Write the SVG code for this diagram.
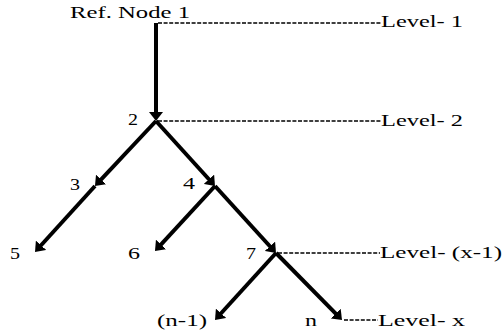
<svg xmlns="http://www.w3.org/2000/svg" width="504" height="333" viewBox="0 0 504 333">
<style>
text{font-family:"Liberation Serif","Times New Roman",serif;font-size:16.5px;font-weight:normal;fill:#000}
.e{fill:none;stroke:#000;stroke-width:4;stroke-linecap:butt;marker-end:url(#ah)}
.d{fill:none;stroke:#000;stroke-width:1.5;stroke-dasharray:4 1.6}
</style>
<defs>
<marker id="ah" markerUnits="userSpaceOnUse" viewBox="0 -7 9 14" markerWidth="9" markerHeight="14" refX="5" refY="0" orient="auto">
<path d="M0,-7 L9,0 L0,7 Z" fill="#000"/>
</marker>
</defs>
<rect width="504" height="333" fill="#fff"/>
<g id="connectors">
<line class="e" x1="156" y1="23" x2="156" y2="117"/>
<line class="e" x1="156" y1="121" x2="97.7" y2="183.1"/>
<line class="e" x1="95" y1="186" x2="37.7" y2="249"/>
<line class="e" x1="156" y1="121" x2="212.3" y2="183"/>
<line class="e" x1="215" y1="186" x2="157.7" y2="248.1"/>
<line class="e" x1="215" y1="186" x2="273.3" y2="250"/>
<line class="e" x1="276" y1="253" x2="217.7" y2="317"/>
<line class="e" x1="276" y1="253" x2="339.2" y2="317.2"/>
<line class="d" x1="158" y1="23" x2="381" y2="23"/>
<line class="d" x1="158" y1="121" x2="381" y2="121"/>
<line class="d" x1="278" y1="253" x2="380" y2="253"/>
<line class="d" x1="344" y1="320" x2="378" y2="320"/>
</g>
<g id="node1"><text x="70" y="18" textLength="120" lengthAdjust="spacingAndGlyphs">Ref. Node 1</text></g>
<g id="node2"><text x="128" y="125" textLength="10" lengthAdjust="spacingAndGlyphs">2</text></g>
<g id="node3"><text x="70" y="190" textLength="10" lengthAdjust="spacingAndGlyphs">3</text></g>
<g id="node4"><text x="183" y="189" textLength="12" lengthAdjust="spacingAndGlyphs">4</text></g>
<g id="node5"><text x="10" y="259" textLength="10" lengthAdjust="spacingAndGlyphs">5</text></g>
<g id="node6"><text x="128" y="259" textLength="12" lengthAdjust="spacingAndGlyphs">6</text></g>
<g id="node7"><text x="246" y="259" textLength="10" lengthAdjust="spacingAndGlyphs">7</text></g>
<g id="node-n1"><text x="157" y="326" textLength="50" lengthAdjust="spacingAndGlyphs">(n-1)</text></g>
<g id="node-n"><text x="305" y="326" textLength="12" lengthAdjust="spacingAndGlyphs">n</text></g>
<g id="levels">
<text x="381" y="27" textLength="82" lengthAdjust="spacingAndGlyphs">Level- 1</text>
<text x="381" y="126" textLength="82" lengthAdjust="spacingAndGlyphs">Level- 2</text>
<text x="380" y="258" textLength="122" lengthAdjust="spacingAndGlyphs">Level- (x-1)</text>
<text x="378" y="326" textLength="87" lengthAdjust="spacingAndGlyphs">Level- x</text>
</g>
</svg>
